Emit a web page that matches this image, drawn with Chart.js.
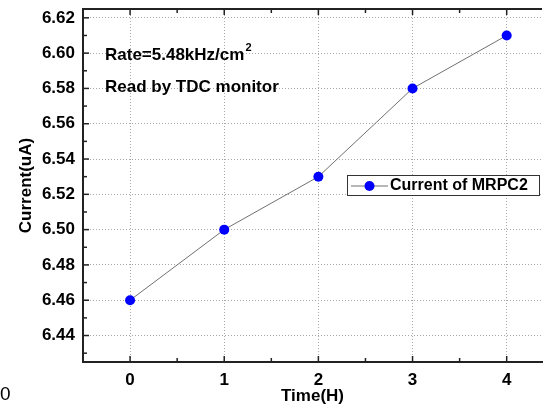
<!DOCTYPE html>
<html>
<head>
<meta charset="utf-8">
<script src="https://cdn.jsdelivr.net/npm/chart.js@4"></script>
<style>
html,body{margin:0;padding:0;background:#fff;overflow:hidden;}
#wrap{position:relative;width:547px;height:407px;}
</style>
</head>
<body>
<div id="wrap"><canvas id="c" width="547" height="407"></canvas></div>
<script>
// ---- data ----
const timeH = [0, 1, 2, 3, 4];
const currentMRPC2 = [6.46, 6.50, 6.53, 6.58, 6.61];
const xTickValues = [0, 1, 2, 3, 4];
const yTickValues = [6.44, 6.46, 6.48, 6.50, 6.52, 6.54, 6.56, 6.58, 6.60, 6.62];
const xMinorValues = [-0.5, 0.5, 1.5, 2.5, 3.5];
const yMinorValues = [6.43, 6.45, 6.47, 6.49, 6.51, 6.53, 6.55, 6.57, 6.59, 6.61];
const seriesLabel = 'Current of MRPC2';
const annotation1 = 'Rate=5.48kHz/cm';
const annotation1Sup = '2';
const annotation2 = 'Read by TDC monitor';

const FONT = '"Liberation Sans", Arial, sans-serif';
const gridColor = '#a8a8a8';
const axisColor = '#222';

const points = timeH.map((t, i) => ({x: t, y: currentMRPC2[i]}));

const decor = {
  id: 'decor',
  afterDraw(chart) {
    const {ctx, chartArea: ca} = chart;
    const xs = chart.scales.x, ys = chart.scales.y;
    ctx.save();
    // top border
    ctx.strokeStyle = axisColor;
    ctx.lineWidth = 2;
    ctx.beginPath();
    ctx.moveTo(ca.left - 1, ca.top);
    ctx.lineTo(ca.right, ca.top);
    ctx.stroke();
    // inward ticks
    ctx.lineWidth = 1.5;
    const tick = (x1, y1, x2, y2) => { ctx.beginPath(); ctx.moveTo(x1, y1); ctx.lineTo(x2, y2); ctx.stroke(); };
    xTickValues.forEach(v => { const p = xs.getPixelForValue(v); tick(p, ca.bottom, p, ca.bottom - 6); tick(p, ca.top, p, ca.top + 6); });
    xMinorValues.forEach(v => { const p = xs.getPixelForValue(v); if (p > ca.left + 1) { tick(p, ca.bottom, p, ca.bottom - 4); tick(p, ca.top, p, ca.top + 4); } });
    yTickValues.forEach(v => { const p = ys.getPixelForValue(v); tick(ca.left, p, ca.left + 6, p); });
    yMinorValues.forEach(v => { const p = ys.getPixelForValue(v); tick(ca.left, p, ca.left + 4, p); });

    // annotations
    ctx.fillStyle = '#000';
    ctx.textBaseline = 'middle';
    ctx.textAlign = 'left';
    ctx.font = 'bold 17px ' + FONT;
    ctx.fillText(annotation1, 105, 55);
    const w1 = ctx.measureText(annotation1).width;
    ctx.font = 'bold 11px ' + FONT;
    ctx.fillText(annotation1Sup, 105 + w1 + 1, 48);
    ctx.font = 'bold 17px ' + FONT;
    ctx.fillText(annotation2, 105, 87);

    // legend
    const ds = chart.data.datasets[0];
    ctx.fillStyle = '#fff';
    ctx.fillRect(347.5, 175.5, 192, 20);
    ctx.strokeStyle = '#333';
    ctx.lineWidth = 1;
    ctx.strokeRect(347.5, 175.5, 192, 20);
    ctx.strokeStyle = ds.borderColor;
    ctx.lineWidth = 1;
    tick(351, 186, 388, 186);
    ctx.fillStyle = ds.pointBackgroundColor;
    ctx.beginPath(); ctx.arc(369.5, 186, 5, 0, Math.PI * 2); ctx.fill();
    ctx.fillStyle = '#000';
    ctx.font = 'bold 16px ' + FONT;
    ctx.fillText(ds.label, 390, 186);

    // stray text at bottom-left
    ctx.font = '19px ' + FONT;
    ctx.fillText('0', 0, 395);
    ctx.restore();
  }
};

new Chart(document.getElementById('c'), {
  type: 'line',
  data: {
    datasets: [{
      label: seriesLabel,
      data: points,
      borderColor: '#707070',
      borderWidth: 1,
      pointRadius: 5,
      pointHoverRadius: 5,
      pointBackgroundColor: '#0000ff',
      pointBorderWidth: 0,
      tension: 0,
      clip: false
    }]
  },
  options: {
    responsive: false,
    animation: false,
    layout: {padding: {top: 9, right: 0, left: 0, bottom: 0}},
    plugins: {legend: {display: false}, tooltip: {enabled: false}},
    scales: {
      x: {
        type: 'linear',
        min: -0.5,
        max: 4.375,
        afterBuildTicks: s => { s.ticks = xTickValues.map(v => ({value: v})); },
        afterFit: s => { s.height = 45; s.paddingLeft = 0; s.paddingRight = 0; },
        grid: {drawTicks: false, color: gridColor, lineWidth: 1},
        border: {display: true, color: axisColor, width: 2, dash: [1, 2]},
        ticks: {color: '#000', font: {family: FONT, size: 17, weight: 'bold'}, padding: 8, maxRotation: 0,
          callback: v => String(v)},
        title: {display: true, text: 'Time(H)', color: '#000', font: {family: FONT, size: 17, weight: 'bold'}, padding: 0}
      },
      y: {
        type: 'linear',
        min: 6.425,
        max: 6.625,
        afterBuildTicks: s => { s.ticks = yTickValues.map(v => ({value: v})); },
        afterFit: s => { s.width = 83; s.paddingTop = 0; s.paddingBottom = 0; },
        grid: {drawTicks: false, color: gridColor, lineWidth: 1},
        border: {display: true, color: axisColor, width: 2, dash: [1, 2]},
        ticks: {color: '#000', font: {family: FONT, size: 17, weight: 'bold'}, padding: 8,
          callback: v => Number(v).toFixed(2)},
        title: {display: true, text: 'Current(uA)', color: '#000', font: {family: FONT, size: 17, weight: 'bold'}, padding: {top: 16, bottom: 0}}
      }
    }
  },
  plugins: [decor]
});
</script>
</body>
</html>
